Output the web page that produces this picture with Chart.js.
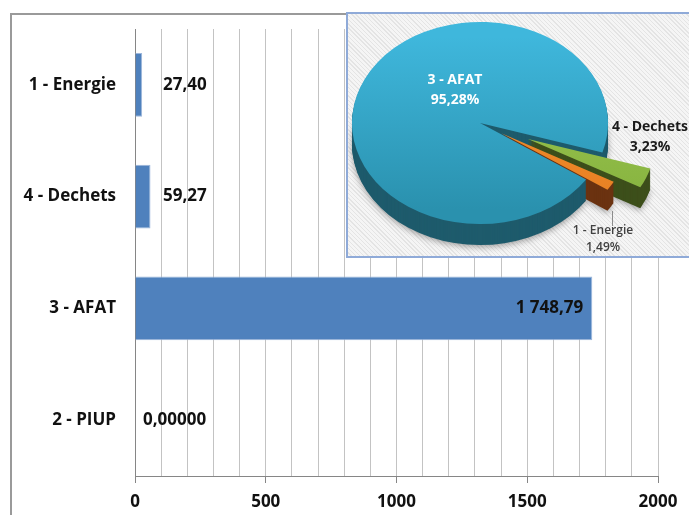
<!DOCTYPE html>
<html>
<head>
<meta charset="utf-8">
<script src="https://cdn.jsdelivr.net/npm/chart.js@4.4.1/dist/chart.umd.min.js"></script>
<style>
  html, body { margin: 0; padding: 0; background: #fff; }
  #wrap { position: relative; width: 689px; height: 515px; overflow: hidden; }
  #frame { position: absolute; left: 10px; top: 13px; width: 700px; height: 520px; box-sizing: border-box; border: 2px solid #9a9a9a; }
  #barChart { position: absolute; left: 0; top: 0; }
  #inset {
    position: absolute; left: 346px; top: 12px; width: 360px; height: 246px; box-sizing: border-box;
    border: 2px solid #8faad8;
    background: repeating-linear-gradient(45deg, #f5f5f5 0 2px, #e4e4e4 2px 3px);
  }
  #pieChart { position: absolute; left: 0; top: 0; }
</style>
</head>
<body>
<div id="wrap">
  <div id="frame"></div>
  <canvas id="barChart" width="689" height="515"></canvas>
  <div id="inset"><canvas id="pieChart" width="341" height="242"></canvas></div>
</div>
<script>
/* Emissions par secteur */
const categories = ['1 - Energie', '4 - Dechets', '3 - AFAT', '2 - PIUP'];
const emissions = [27.40, 59.27, 1748.79, 0];
const decimals = [2, 2, 2, 5];
const axisTicks = [0, 500, 1000, 1500, 2000];
const pieOrder = [2, 1, 0]; // AFAT, Dechets, Energie (PIUP is zero)

const FONT = '"Open Sans", sans-serif';
const BAR_BLUE = '#4f81bd';

/* 1748.79 -> "1 748,79" */
function frNumber(v, d) {
  const parts = v.toFixed(d).split('.');
  const int = parts[0].replace(/\B(?=(\d{3})+(?!\d))/g, ' ');
  return parts[1] ? int + ',' + parts[1] : int;
}

/* value labels next to / inside the bars */
const valueLabels = {
  id: 'valueLabels',
  afterDatasetsDraw(chart) {
    const ctx = chart.ctx;
    const x0 = chart.scales.x.getPixelForValue(0);
    ctx.save();
    ctx.font = 'bold 17px ' + FONT;
    ctx.fillStyle = '#111';
    ctx.textBaseline = 'middle';
    chart.getDatasetMeta(0).data.forEach((bar, i) => {
      const text = frNumber(emissions[i], decimals[i]);
      const w = ctx.measureText(text).width;
      if (bar.x - x0 > w + 30) {
        ctx.textAlign = 'right';
        ctx.fillText(text, bar.x - 9, bar.y);
      } else {
        ctx.textAlign = 'left';
        ctx.fillText(text, x0 + (emissions[i] > 0 ? 28 : 8), bar.y);
      }
    });
    ctx.restore();
  }
};

new Chart(document.getElementById('barChart'), {
  type: 'bar',
  data: {
    labels: categories,
    datasets: [{
      data: emissions,
      backgroundColor: BAR_BLUE,
      borderColor: '#9db7dc',
      borderWidth: 1,
      barPercentage: 0.57,
      categoryPercentage: 1.0
    }]
  },
  options: {
    indexAxis: 'y',
    responsive: false,
    animation: false,
    layout: { padding: { left: 10, top: 29, right: 31, bottom: 0 } },
    scales: {
      x: {
        min: 0, max: 2000,
        afterFit(scale) { scale.height = 39; },
        ticks: {
          stepSize: 100, autoSkip: false, maxRotation: 0, padding: 9,
          color: '#111', font: { family: FONT, size: 17, weight: 'bold' },
          callback: v => axisTicks.includes(v) ? String(v) : ''
        },
        grid: {
          color: '#c3c3c3', lineWidth: 1, tickLength: 7,
          tickColor: c => axisTicks.includes(c.tick && c.tick.value) ? '#868686' : 'rgba(0,0,0,0)'
        },
        border: { color: '#868686', width: 1 }
      },
      y: {
        afterFit(scale) { scale.width = 125; },
        ticks: { padding: 11, color: '#111', font: { family: FONT, size: 17, weight: 'bold' } },
        grid: { display: false },
        border: { color: '#868686', width: 1 }
      }
    },
    plugins: { legend: { display: false }, tooltip: { enabled: false } }
  },
  plugins: [valueLabels]
});

/* ---------- inset pie, drawn tilted with a side wall ---------- */
function pullOffset(arc, pull) {
  const mid = (arc.startAngle + arc.endAngle) / 2;
  return { x: Math.cos(mid) * pull, y: Math.sin(mid) * pull };
}

// pull slices out without widening them (Chart's own offset also grows the radius)
function wrapPull(arc, pull) {
  if (!pull || arc.$pulled) return;
  const draw = arc.draw;
  arc.draw = function (ctx) {
    const p = pullOffset(this, pull);
    ctx.save();
    ctx.translate(p.x, p.y);
    draw.call(this, ctx);
    ctx.restore();
  };
  arc.$pulled = true;
}

function tilt(ctx, cx, cy, k) {
  ctx.translate(cx, cy);
  ctx.scale(1, k);
  ctx.translate(-cx, -cy);
}

const pie3d = {
  id: 'pie3d',
  beforeDatasetsDraw(chart, args, opts) {
    const ctx = chart.ctx;
    const arcs = chart.getDatasetMeta(0).data;
    const cx = arcs[0].x, cy = arcs[0].y;
    arcs.forEach((arc, i) => wrapPull(arc, opts.pull[i]));
    for (let d = opts.depth; d > 0; d--) {
      ctx.save();
      if (d === opts.depth) {
        ctx.shadowColor = 'rgba(0,0,0,0.35)';
        ctx.shadowBlur = 6;
        ctx.shadowOffsetY = 2;
      }
      ctx.translate(0, d);
      tilt(ctx, cx, cy, opts.tilt);
      arcs.forEach((arc, i) => {
        const p = pullOffset(arc, opts.pull[i]);
        ctx.beginPath();
        ctx.moveTo(arc.x + p.x, arc.y + p.y);
        ctx.arc(arc.x + p.x, arc.y + p.y, arc.outerRadius, arc.startAngle, arc.endAngle);
        ctx.closePath();
        ctx.fillStyle = opts.sideColors[i];
        ctx.fill();
      });
      ctx.restore();
    }
    ctx.save();
    tilt(ctx, cx, cy, opts.tilt);
  },
  afterDatasetsDraw(chart) {
    chart.ctx.restore();
  }
};

// label placement relative to the pie centre
const pieLabelStyle = [
  { dx: -25, dy: -43, gap: 20, font: 'bold 14px ' + FONT, color: '#ffffff' },
  { dx: 170, dy: 4, gap: 20, font: 'bold 14px ' + FONT, color: '#1a1a1a' },
  { dx: 123, dy: 108, gap: 17, font: '600 12px ' + FONT, color: '#404040', leader: [132, 88, 103] }
];

const pieLabels = {
  id: 'pieLabels',
  afterDraw(chart) {
    const ctx = chart.ctx;
    const arcs = chart.getDatasetMeta(0).data;
    const cx = arcs[0].x, cy = arcs[0].y;
    const values = chart.data.datasets[0].data;
    const total = values.reduce((a, b) => a + b, 0);
    ctx.save();
    ctx.textAlign = 'center';
    ctx.textBaseline = 'middle';
    values.forEach((v, i) => {
      const s = pieLabelStyle[i];
      if (s.leader) {
        ctx.strokeStyle = '#8c8c8c';
        ctx.lineWidth = 1;
        ctx.beginPath();
        ctx.moveTo(cx + s.leader[0] + 0.5, cy + s.leader[1]);
        ctx.lineTo(cx + s.leader[0] + 0.5, cy + s.leader[2]);
        ctx.stroke();
      }
      ctx.font = s.font;
      ctx.fillStyle = s.color;
      ctx.fillText(chart.data.labels[i], cx + s.dx, cy + s.dy);
      ctx.fillText(frNumber(v / total * 100, 2) + '%', cx + s.dx, cy + s.dy + s.gap);
    });
    ctx.restore();
  }
};

const topColors = [['#3fb7dc', '#2a91ae'], ['#9cc853', '#84b03c'], ['#f5952f', '#e57d22']];

new Chart(document.getElementById('pieChart'), {
  type: 'pie',
  data: {
    labels: pieOrder.map(i => categories[i]),
    datasets: [{
      data: pieOrder.map(i => emissions[i]),
      backgroundColor(c) {
        const pair = topColors[c.dataIndex];
        const area = c.chart.chartArea;
        if (!area) return pair[0];
        const g = c.chart.ctx.createLinearGradient(0, area.top, 0, area.bottom);
        g.addColorStop(0, pair[0]);
        g.addColorStop(1, pair[1]);
        return g;
      },
      borderWidth: 0,
      radius: 128
    }]
  },
  options: {
    responsive: false,
    animation: false,
    rotation: 124,
    layout: { padding: { left: 0, top: 0, right: 77, bottom: 24 } },
    plugins: {
      legend: { display: false },
      tooltip: { enabled: false },
      pie3d: {
        tilt: 0.79,
        depth: 21,
        pull: [0, 52, 25],
        sideColors: ['#1e5b6c', '#3d4f1b', '#6b3311']
      }
    }
  },
  plugins: [pie3d, pieLabels]
});
</script>
</body>
</html>
